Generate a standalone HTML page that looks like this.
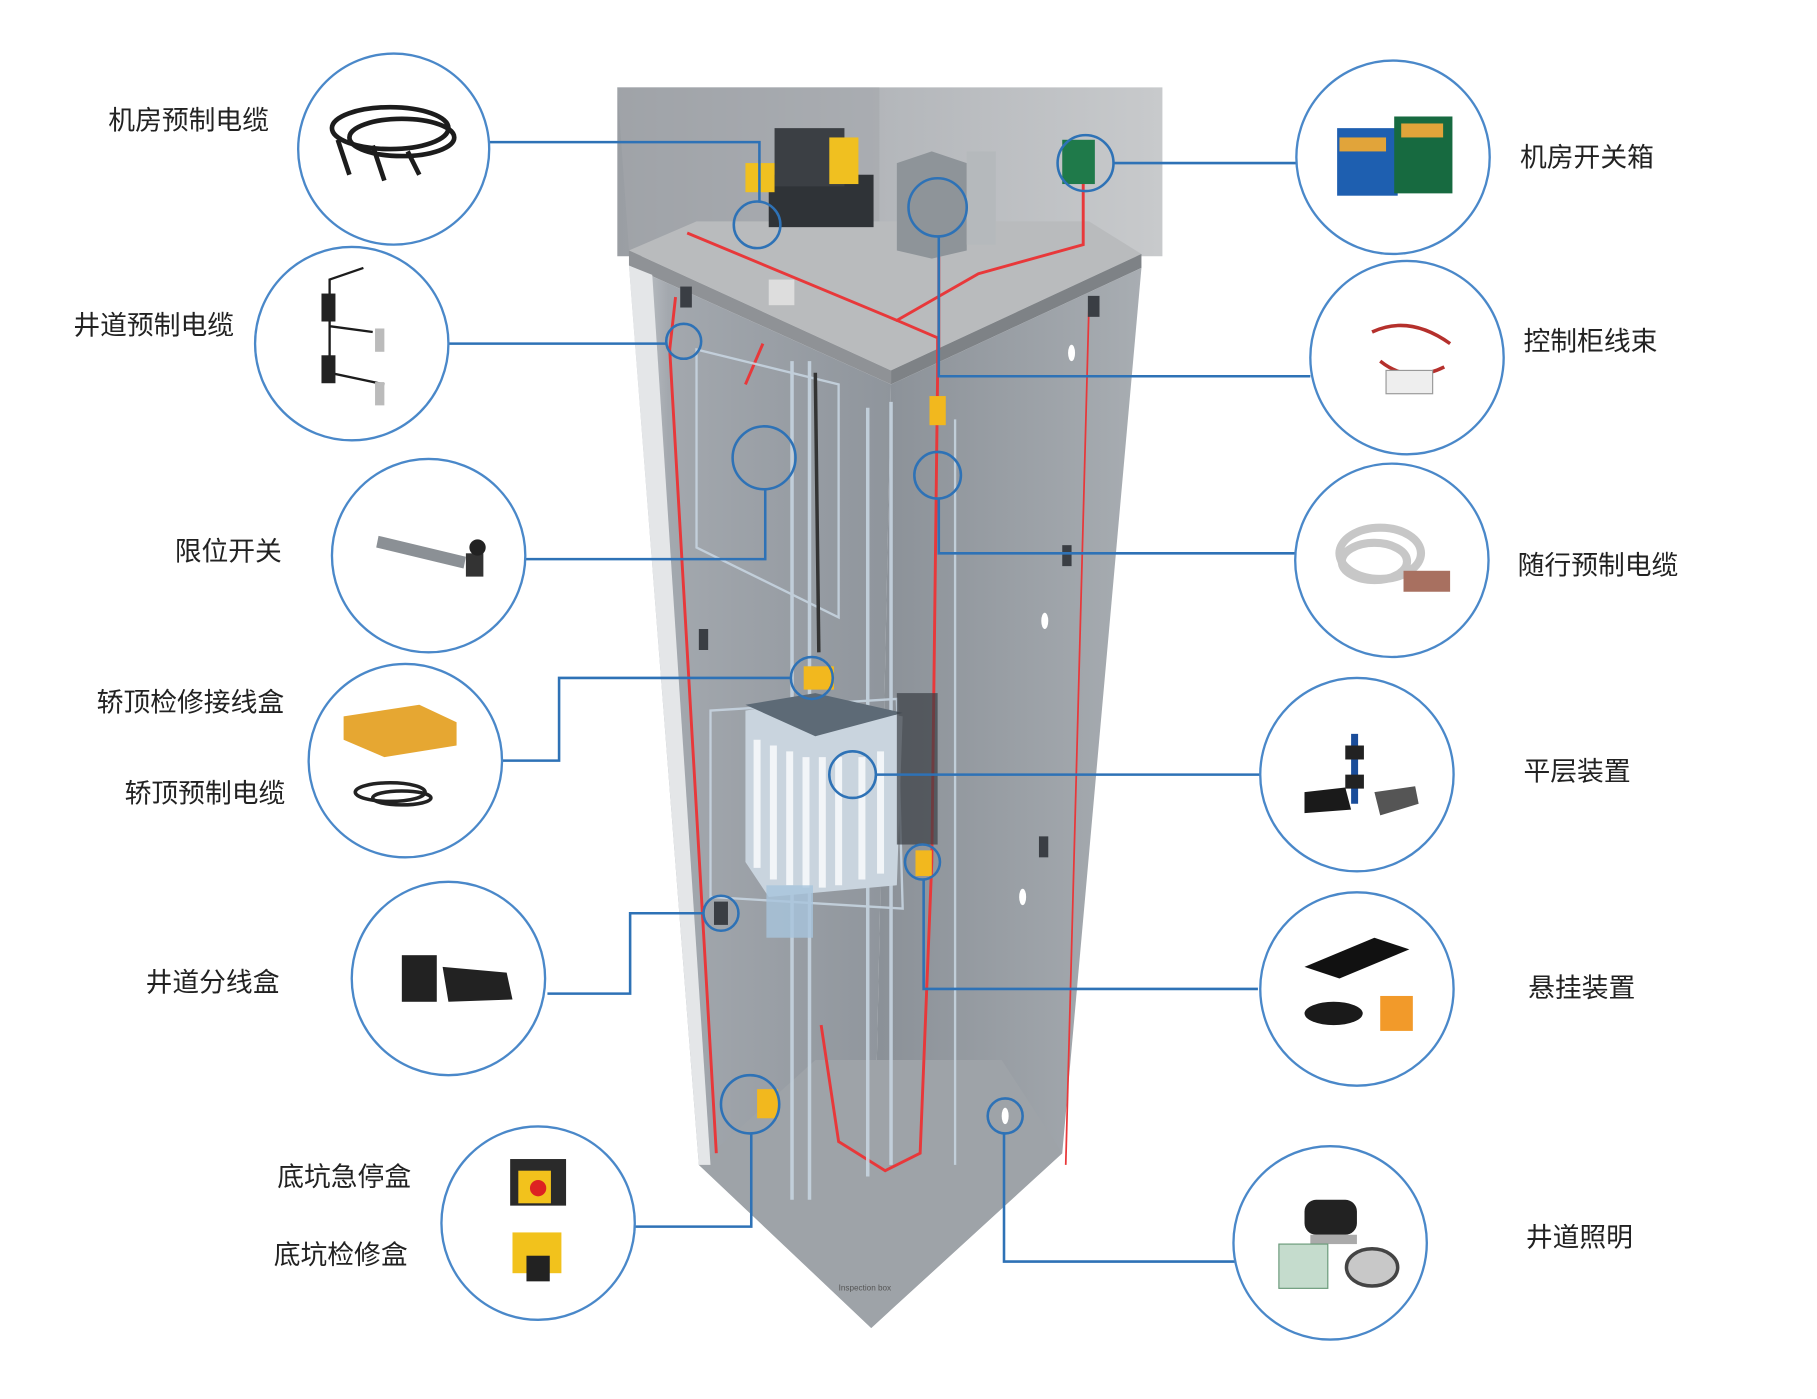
<!DOCTYPE html>
<html><head><meta charset="utf-8"><style>
html,body{margin:0;padding:0;background:#fff;}
svg{display:block;}
text{font-family:"Liberation Sans","Noto Sans CJK SC",sans-serif;fill:#222;font-size:23px;}
</style></head><body>
<svg width="1817" height="1399" viewBox="0 0 1560 1201" preserveAspectRatio="none" xmlns="http://www.w3.org/2000/svg">
<defs>
<linearGradient id="bw" x1="0" y1="0" x2="1" y2="0"><stop offset="0" stop-color="#9a9ea3"/><stop offset="0.5" stop-color="#b4b7bb"/><stop offset="1" stop-color="#c8cacc"/></linearGradient>
<linearGradient id="lw" x1="0" y1="0" x2="1" y2="0"><stop offset="0" stop-color="#c9ccd0"/><stop offset="0.15" stop-color="#a3a8ae"/><stop offset="1" stop-color="#8f959c"/></linearGradient>
<linearGradient id="rw" x1="0" y1="0" x2="1" y2="0"><stop offset="0" stop-color="#8a9097"/><stop offset="1" stop-color="#a8adb2"/></linearGradient>
</defs>
<rect width="1560" height="1201" fill="#fff"/>
<polygon points="530,75 998,75 998,220 530,220" fill="url(#bw)"/>
<polygon points="530,75 755,75 755,215 540,215" fill="#a4a7ab" opacity="0.6"/>
<polygon points="540,215 598,190 935,190 980,218 765,318" fill="#b9bbbd"/>
<polygon points="540,215 765,318 765,330 540,228" fill="#8f9296"/>
<polygon points="765,318 980,218 980,230 765,330" fill="#7e8286"/>
<polygon points="540,228 765,330 748,1140 600,1000" fill="url(#lw)"/>
<polygon points="765,330 980,230 912,990 748,1140" fill="url(#rw)"/>
<polygon points="600,1000 700,910 860,910 912,990 748,1140" fill="#9ea3a8"/>
<polygon points="540,228 560,236 610,1000 600,1000" fill="#e4e6e8"/>
<g stroke="#e8383a" fill="none" stroke-width="2.5">
<path d="M590,200 L770,275 L840,235 L930,210 L930,150"/>
<path d="M770,275 L805,290 L805,320 L800,740 L790,990 L760,1005 L720,980 L705,880"/>
<path d="M806,300 L806,180"/>
<path d="M580,255 L575,300 L615,990"/>
<path d="M935,260 L915,1000" stroke-width="1.5"/>
<path d="M655,295 L640,330"/>
</g>
<g stroke="#c6d4e0" fill="none" stroke-width="3" opacity="0.9">
<path d="M745,350 L745,1010"/><path d="M765,345 L765,1000"/>
<path d="M680,310 L680,1030"/><path d="M695,310 L695,1030"/>
<path d="M598,300 L720,330 L720,530 L598,470 Z" stroke-width="2"/>
<path d="M610,610 L770,600 L775,780 L610,770 Z" stroke-width="2"/>
<path d="M820,360 L820,1000" stroke-width="2"/>
</g>
<path d="M700,320 L703,560" stroke="#333" stroke-width="3"/>
<polygon points="640,610 700,600 775,615 770,760 660,770 640,740" fill="#c9d4de"/>
<g stroke="#f2f5f8" stroke-width="6">
<path d="M650,635 L650,745"/><path d="M664,640 L664,755"/><path d="M678,645 L678,760"/><path d="M692,650 L692,762"/><path d="M706,650 L706,762"/><path d="M720,650 L720,760"/><path d="M740,650 L740,755"/><path d="M756,645 L756,750"/>
</g>
<polygon points="640,605 700,595 775,612 700,632" fill="#5d6a76"/>
<rect x="658" y="760" width="40" height="45" fill="#a8c4dc" opacity="0.8"/>
<rect x="770" y="595" width="35" height="130" fill="#3a3e44" opacity="0.7"/>
<rect x="660" y="150" width="90" height="45" fill="#2f3337"/>
<rect x="665" y="110" width="60" height="50" fill="#3b3f44"/>
<rect x="640" y="140" width="25" height="25" fill="#f0c020"/>
<rect x="712" y="118" width="25" height="40" fill="#f0c020"/>
<polygon points="770,140 800,130 830,140 830,215 800,222 770,215" fill="#8e9499"/>
<rect x="830" y="130" width="25" height="80" fill="#b5b9bc"/>
<rect x="912" y="120" width="28" height="38" fill="#1f7a4a"/>
<rect x="660" y="240" width="22" height="22" fill="#ddd"/>
<rect x="690" y="572" width="26" height="20" fill="#f2b81e"/>
<rect x="798" y="340" width="14" height="25" fill="#f2b81e"/>
<rect x="786" y="730" width="14" height="22" fill="#f2b81e"/>
<rect x="650" y="935" width="18" height="25" fill="#f2b81e"/>
<rect x="613" y="774" width="12" height="20" fill="#3a3e44"/>
<rect x="584" y="246" width="10" height="18" fill="#3a3e44"/>
<rect x="934" y="254" width="10" height="18" fill="#3a3e44"/>
<rect x="600" y="540" width="8" height="18" fill="#3a3e44"/>
<rect x="912" y="468" width="8" height="18" fill="#3a3e44"/>
<rect x="892" y="718" width="8" height="18" fill="#3a3e44"/>
<ellipse cx="920" cy="303" rx="3" ry="7" fill="#fff"/>
<ellipse cx="897" cy="533" rx="3" ry="7" fill="#fff"/>
<ellipse cx="878" cy="770" rx="3" ry="7" fill="#fff"/>
<ellipse cx="863" cy="958" rx="3" ry="7" fill="#fff"/>
<text x="720" y="1108" style="font-size:7px;fill:#555">Inspection box</text>
<g stroke="#2e72b6" stroke-width="2.2" fill="none">
<path d="M420,122 L652,122 L652,173"/><circle cx="650" cy="193" r="20"/>
<path d="M385,295 L572,295"/><circle cx="587" cy="293" r="15"/>
<path d="M450,480 L657,480 L657,420"/><circle cx="656" cy="393" r="27"/>
<path d="M430,653 L480,653 L480,582 L679,582"/><circle cx="697" cy="582" r="18"/>
<path d="M470,853 L541,853 L541,784 L604,784"/><circle cx="619" cy="784" r="15"/>
<path d="M545,1053 L645,1053 L645,973"/><circle cx="644" cy="948" r="25"/>
<path d="M1113,140 L956,140"/><circle cx="932" cy="140" r="24"/>
<path d="M1125,323 L806,323 L806,203"/><circle cx="805" cy="178" r="25"/>
<path d="M1113,475 L806,475 L806,428"/><circle cx="805" cy="408" r="20"/>
<path d="M1083,665 L752,665"/><circle cx="732" cy="665" r="20"/>
<path d="M1080,849 L793,849 L793,755"/><circle cx="792" cy="740" r="15"/>
<path d="M1060,1083 L862,1083 L862,973"/><circle cx="863" cy="958" r="15"/>
</g>
<g stroke="#4a88c9" stroke-width="2" fill="#fff">
<circle cx="338" cy="128" r="82"/><circle cx="302" cy="295" r="83"/><circle cx="368" cy="477" r="83"/>
<circle cx="348" cy="653" r="83"/><circle cx="385" cy="840" r="83"/><circle cx="462" cy="1050" r="83"/>
<circle cx="1196" cy="135" r="83"/><circle cx="1208" cy="307" r="83"/><circle cx="1195" cy="481" r="83"/>
<circle cx="1165" cy="665" r="83"/><circle cx="1165" cy="849" r="83"/><circle cx="1142" cy="1067" r="83"/>
</g>
<g fill="none" stroke="#1c1c1c" stroke-width="4">
<ellipse cx="335" cy="110" rx="50" ry="18"/><ellipse cx="345" cy="118" rx="45" ry="16"/>
<path d="M290,120 L300,150 M320,125 L330,155 M350,130 L360,150"/>
</g>
<g stroke="#1c1c1c" stroke-width="2" fill="none"><path d="M312,230 L283,240 L283,320 L330,330 M283,280 L320,285"/></g>
<rect x="276" y="252" width="12" height="24" fill="#222"/><rect x="276" y="305" width="12" height="24" fill="#222"/>
<rect x="322" y="282" width="8" height="20" fill="#bbb"/><rect x="322" y="328" width="8" height="20" fill="#bbb"/>
<polygon points="325,460 400,478 398,488 323,470" fill="#8b9095"/><rect x="400" y="475" width="15" height="20" fill="#333"/><circle cx="410" cy="470" r="7" fill="#222"/>
<polygon points="295,615 360,605 392,620 392,640 330,650 295,635" fill="#e6a732"/>
<g stroke="#222" stroke-width="3" fill="none"><ellipse cx="335" cy="680" rx="30" ry="8"/><ellipse cx="345" cy="685" rx="25" ry="6"/></g>
<rect x="345" y="820" width="30" height="40" fill="#222"/><polygon points="380,830 435,835 440,858 385,860" fill="#222"/>
<rect x="438" y="995" width="48" height="40" fill="#2a2a2a"/><rect x="445" y="1005" width="28" height="28" fill="#f2c21c"/><circle cx="462" cy="1020" r="7" fill="#d22"/>
<rect x="440" y="1058" width="42" height="35" fill="#f2c21c"/><rect x="452" y="1078" width="20" height="22" fill="#222"/>
<rect x="1148" y="110" width="52" height="58" fill="#1e5fb0"/><rect x="1197" y="100" width="50" height="66" fill="#176a40"/>
<rect x="1150" y="118" width="40" height="12" fill="#e1a43a"/><rect x="1203" y="106" width="36" height="12" fill="#e1a43a"/>
<g stroke="#b5302c" stroke-width="3" fill="none"><path d="M1178,285 Q1210,270 1245,295 M1185,310 Q1210,330 1240,315"/></g>
<rect x="1190" y="318" width="40" height="20" fill="#eee" stroke="#999"/>
<g stroke="#c7c7c7" stroke-width="7" fill="none"><ellipse cx="1185" cy="475" rx="35" ry="22"/><ellipse cx="1180" cy="482" rx="28" ry="16"/></g>
<rect x="1205" y="490" width="40" height="18" fill="#a87060"/>
<rect x="1160" y="630" width="6" height="60" fill="#1a4d9a"/><rect x="1155" y="640" width="16" height="12" fill="#222"/><rect x="1155" y="665" width="16" height="12" fill="#222"/>
<polygon points="1120,680 1155,676 1160,695 1120,698" fill="#1a1a1a"/><polygon points="1180,680 1215,675 1218,690 1185,700" fill="#555"/>
<polygon points="1120,830 1180,805 1210,815 1150,840" fill="#111"/><ellipse cx="1145" cy="870" rx="25" ry="10" fill="#1a1a1a"/>
<rect x="1185" y="855" width="28" height="30" fill="#f29a2a"/>
<rect x="1120" y="1030" width="45" height="30" fill="#222" rx="10"/><rect x="1125" y="1060" width="40" height="8" fill="#aaa"/>
<rect x="1098" y="1068" width="42" height="38" fill="#c5dccd" stroke="#6a9a7a"/>
<ellipse cx="1178" cy="1088" rx="22" ry="16" fill="#c8c8c8" stroke="#444" stroke-width="3"/>
<text x="93" y="111">机房预制电缆</text>
<text x="63" y="287">井道预制电缆</text>
<text x="150" y="481">限位开关</text>
<text x="83" y="611">轿顶检修接线盒</text>
<text x="107" y="689">轿顶预制电缆</text>
<text x="125" y="851">井道分线盒</text>
<text x="238" y="1018">底坑急停盒</text>
<text x="235" y="1085">底坑检修盒</text>
<text x="1305" y="143">机房开关箱</text>
<text x="1308" y="301">控制柜线束</text>
<text x="1303" y="493">随行预制电缆</text>
<text x="1308" y="670">平层装置</text>
<text x="1312" y="856">悬挂装置</text>
<text x="1310" y="1070">井道照明</text>
</svg>
</body></html>
